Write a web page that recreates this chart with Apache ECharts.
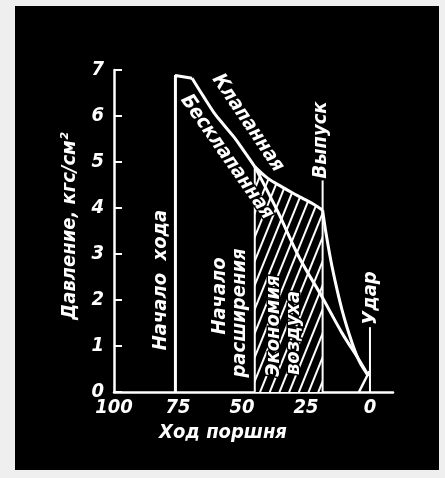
<!DOCTYPE html>
<html>
<head>
<meta charset="utf-8">
<script src="https://cdn.jsdelivr.net/npm/echarts@6/dist/echarts.min.js"></script>
<style>html,body{margin:0;padding:0;background:#efefef;}#c{width:445px;height:478px;}</style>
</head>
<body>
<div id="c"></div>
<script>
// ---- data (piston stroke %, pressure kgf/cm2) ----
const strokeTicks = [100, 75, 50, 25, 0];
const startX    = [76, 76, 69.5];
const startP    = [0, 6.88, 6.82];
const commonX   = [69.5, 65, 60.9, 57, 53.1, 49, 45];
const commonP   = [6.82, 6.42, 6.07, 5.8, 5.54, 5.22, 4.9];
const valveX    = [45, 40, 34.4, 30, 26.6, 22, 18.5];
const valveP    = [4.9, 4.65, 4.46, 4.32, 4.22, 4.08, 3.95];
const exhaustX  = [18.5, 17.2, 14.8, 10.9, 7, 4, 0.6];
const exhaustP  = [3.95, 3.46, 2.72, 1.78, 1.07, 0.65, 0.35];
const valvelessX = [45, 36, 27.7, 18.75, 10.9, 4.3, 0.6];
const valvelessP = [4.9, 3.92, 2.93, 2.07, 1.28, 0.70, 0.35];
const returnX   = [0.2, 4.3];
const returnP   = [0.45, 0];
const expansionStart = 45;   // "Начало расширения"
const exhaust = 18.5;        // "Выпуск"
const exhaustTop = 4.6;
const impact = 0;            // "Удар"
const impactTop = 1.41;

const pair = (xs, ys) => xs.map((x, i) => [x, ys[i]]);

const FONT = 'DejaVu Sans Condensed';
const W = '#ffffff';
const txt = (text, x, y, rot, size) => ({
  type: 'text', x: x, y: y, rotation: rot, z: 100,
  style: { text: text, fill: W, fontSize: size || 20, fontFamily: FONT, fontStyle: 'italic', fontWeight: 'bold',
           align: 'center', verticalAlign: 'middle', stroke: '#000', lineWidth: 3 }
});
const lineSeries = (name, data, width, z, smooth) => ({
  name: name, type: 'line', data: data, symbol: 'none', showSymbol: false, z: z || 5,
  smooth: smooth || false,
  lineStyle: { color: W, width: width }, silent: true, animation: false
});

const chart = echarts.init(document.getElementById('c'), null, { renderer: 'canvas' });
chart.setOption({
  animation: false,
  backgroundColor: '#efefef',
  grid: { left: 114, right: 52, top: 70, bottom: 86 },
  xAxis: {
    type: 'value', inverse: true, min: -9, max: 100,
    axisLine: { lineStyle: { color: W, width: 2.5 } },
    axisTick: { show: false },
    splitLine: { show: false },
    axisLabel: { customValues: strokeTicks, color: W, fontSize: 20, fontFamily: FONT, fontStyle: 'italic', fontWeight: 'bold', margin: 6 }
  },
  yAxis: {
    type: 'value', min: 0, max: 7, interval: 1,
    axisLine: { show: true, onZero: false, lineStyle: { color: W, width: 2.5 } },
    axisTick: { show: true, inside: true, length: 8, lineStyle: { color: W, width: 2 } },
    splitLine: { show: false },
    axisLabel: { color: W, fontSize: 20, fontFamily: FONT, fontStyle: 'italic', fontWeight: 'bold', margin: 10 }
  },
  graphic: {
    elements: [
      { type: 'rect', z: -100, shape: { x: 15, y: 6, width: 424, height: 464 }, style: { fill: '#000' } },
      txt('Давление, кгс/см²', 70, 226, Math.PI / 2),
      txt('Ход поршня', 223, 433, 0),
      txt('Клапанная', 248, 123, -56 * Math.PI / 180),
      txt('Бесклапанная', 227, 157, -55 * Math.PI / 180),
      txt('Выпуск', 321, 140, Math.PI / 2),
      txt('Начало  хода', 161, 280, Math.PI / 2),
      txt('Начало', 220, 296, Math.PI / 2),
      txt('расширения', 240, 313, Math.PI / 2),
      txt('Экономия', 274, 326, Math.PI / 2),
      txt('воздуха', 294, 333, Math.PI / 2),
      txt('Удар', 371, 298, Math.PI / 2)
    ]
  },
  series: [
    {
      name: 'Экономия воздуха', type: 'line', data: pair(valveX, valveP), symbol: 'none', z: 1,
      smooth: 0.4,
      lineStyle: { width: 0 },
      areaStyle: { color: '#000', opacity: 1 },
      itemStyle: { color: '#000', decal: { symbol: 'rect', symbolSize: 1, color: W, backgroundColor: '#000',
        dashArrayX: [1, 0], dashArrayY: [1.6, 6.4], rotation: -68 * Math.PI / 180 } },
      silent: true
    },
    lineSeries('Начало хода', pair(startX, startP), 3, 5),
    lineSeries('Общая', pair(commonX, commonP), 3, 5, 0.4),
    lineSeries('Клапанная', pair(valveX, valveP), 3, 5, 0.4),
    lineSeries('Клапанная выпуск', pair(exhaustX, exhaustP), 3, 5, 0.3),
    lineSeries('Бесклапанная', pair(valvelessX, valvelessP), 3, 6, 0.3),
    lineSeries('return', pair(returnX, returnP), 2.5, 5),
    lineSeries('Начало расширения', [[expansionStart, 0], [expansionStart, valveP[0]]], 2, 4),
    lineSeries('Выпуск', [[exhaust, 0], [exhaust, exhaustTop]], 2, 4),
    lineSeries('Удар', [[impact, 0], [impact, impactTop]], 2, 4)
  ]
});
</script>
</body>
</html>
